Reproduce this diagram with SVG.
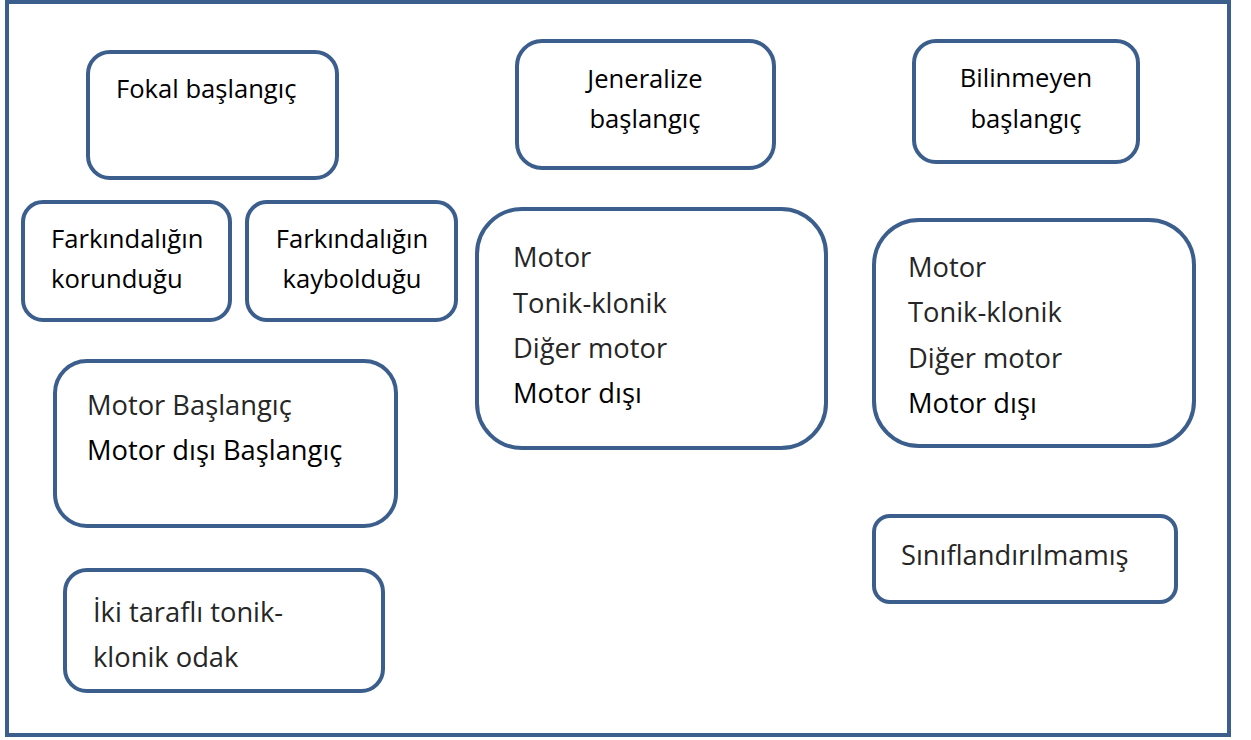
<svg xmlns="http://www.w3.org/2000/svg" width="1251" height="740" viewBox="0 0 1251 740">
<style>
.box{fill:#fff;stroke:#3B5E8C;stroke-width:4}
.t{font-family:"Open Sans","Noto Sans","DejaVu Sans",sans-serif;font-size:25.6px;fill:#000}
.b{font-size:27.3px}
.g{fill:#262626}
.c{text-anchor:middle}
</style>
<rect x="0" y="0" width="1251" height="740" fill="#fff"/>
<rect x="7" y="2" width="1222" height="733" fill="none" stroke="#3B5E8C" stroke-width="4"/>
<g id="connectors"></g>
<g id="fokal"><rect class="box" x="88" y="52" width="249" height="126" rx="22"/><text class="t" x="116" y="98">Fokal başlangıç</text></g>
<g id="korundugu"><rect class="box" x="23" y="202" width="207" height="118" rx="20"/><text class="t" x="51" y="248">Farkındalığın</text><text class="t" x="51" y="288">korunduğu</text></g>
<g id="kayboldugu"><rect class="box" x="247" y="202" width="209" height="118" rx="20"/><text class="t c" x="352" y="248">Farkındalığın</text><text class="t c" x="352" y="288">kaybolduğu</text></g>
<g id="motorbas"><rect class="box" x="55" y="361" width="341" height="165" rx="32"/><text class="t b g" x="87" y="415">Motor Başlangıç</text><text class="t b" x="87" y="460">Motor dışı Başlangıç</text></g>
<g id="ikitarafli"><rect class="box" x="65" y="570" width="318" height="121" rx="22"/><text class="t b g" x="93" y="622">İki taraflı tonik-</text><text class="t b g" x="93" y="667">klonik odak</text></g>
<g id="jeneralize"><rect class="box" x="517" y="41" width="257" height="127" rx="25"/><text class="t c" x="645" y="88">Jeneralize</text><text class="t c" x="645" y="128">başlangıç</text></g>
<g id="jenmotor"><rect class="box" x="477" y="209" width="349" height="239" rx="45"/><text class="t b g" x="513" y="267">Motor</text><text class="t b g" x="513" y="313">Tonik-klonik</text><text class="t b g" x="513" y="358">Diğer motor</text><text class="t b" x="513" y="403">Motor dışı</text></g>
<g id="bilinmeyen"><rect class="box" x="914" y="41" width="224" height="121" rx="22"/><text class="t c" x="1026" y="87">Bilinmeyen</text><text class="t c" x="1026" y="128">başlangıç</text></g>
<g id="bilmotor"><rect class="box" x="874" y="220" width="320" height="226" rx="45"/><text class="t b g" x="908" y="277">Motor</text><text class="t b g" x="908" y="322">Tonik-klonik</text><text class="t b g" x="908" y="368">Diğer motor</text><text class="t b" x="908" y="413">Motor dışı</text></g>
<g id="siniflandirilmamis"><rect class="box" x="874" y="516" width="302" height="86" rx="16"/><text class="t b g" x="901" y="565">Sınıflandırılmamış</text></g>
</svg>
